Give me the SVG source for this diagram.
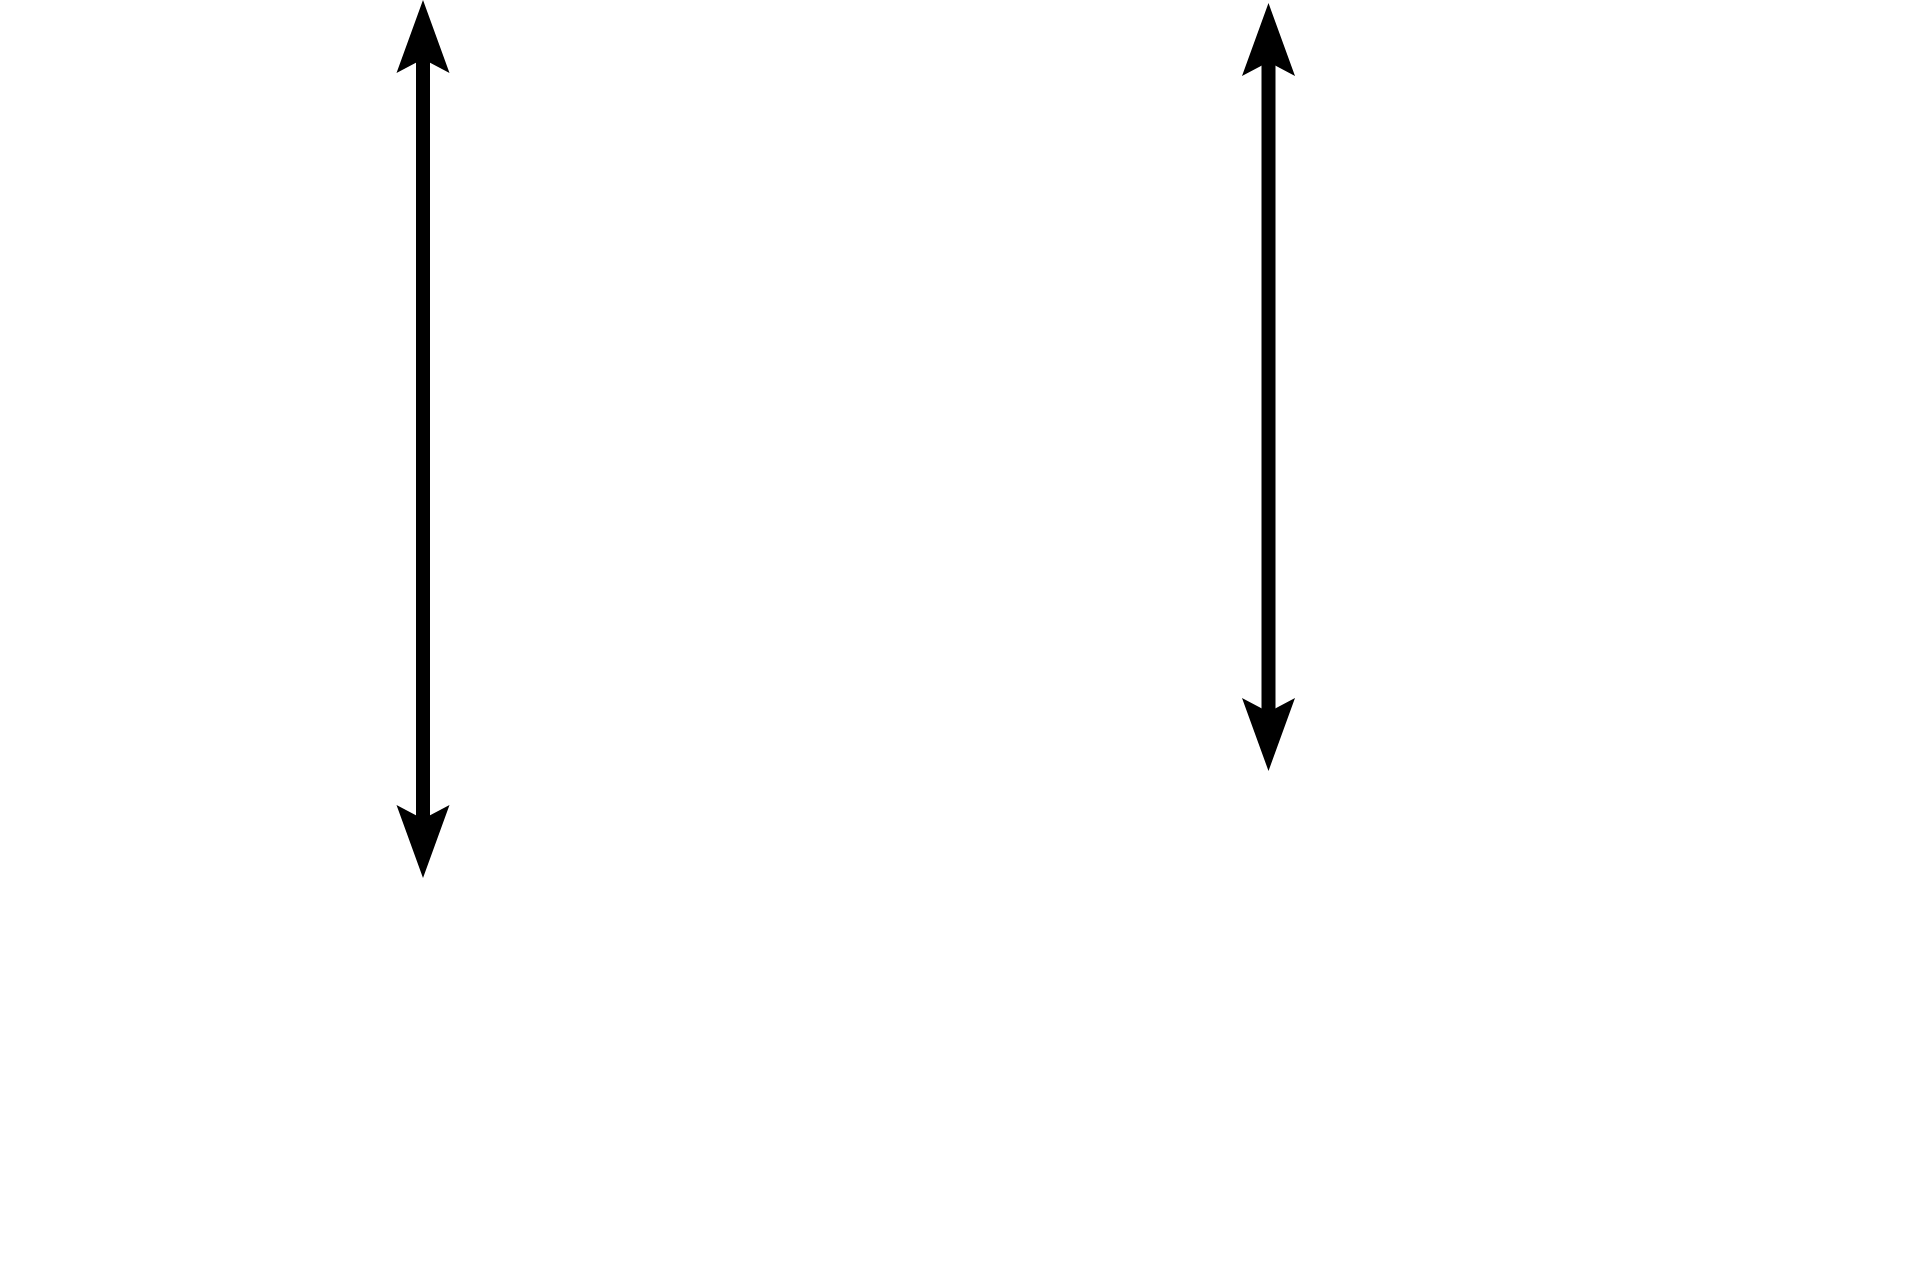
<svg xmlns="http://www.w3.org/2000/svg" width="1920" height="1280" viewBox="0 0 1920 1280">
  <defs>
    <marker id="head" markerUnits="userSpaceOnUse" viewBox="-16 -28 78 56" refX="0" refY="0" markerWidth="78" markerHeight="56" orient="auto-start-reverse" overflow="visible">
      <path d="M59,0 L-14,-26.5 L0,0 L-14,26.5 Z" fill="#000"/>
    </marker>
    <style>
      .conn { stroke: #000; stroke-width: 14; fill: none; marker-start: url(#head); marker-end: url(#head); }
    </style>
  </defs>
  <rect x="0" y="0" width="1920" height="1280" fill="#fff"/>
  <g id="connectors">
    <line class="conn" x1="423" y1="59" x2="423" y2="819"/>
    <line class="conn" x1="1268.5" y1="62" x2="1268.5" y2="712"/>
  </g>
</svg>
